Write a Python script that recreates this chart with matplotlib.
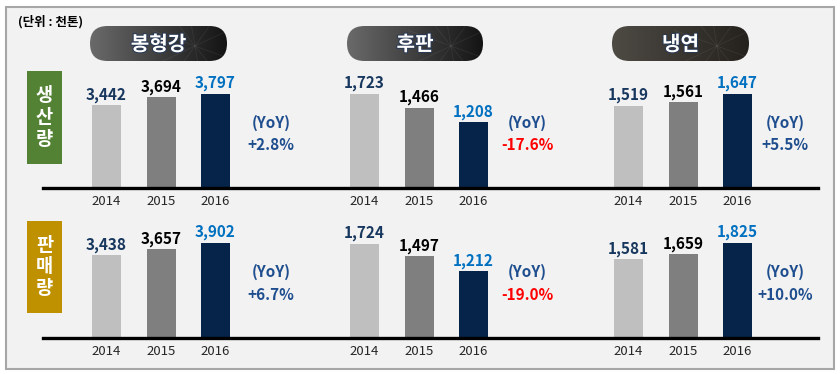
import numpy as np
import matplotlib
matplotlib.use("Agg")
import matplotlib.pyplot as plt
from matplotlib.patches import FancyBboxPatch, Rectangle
from matplotlib.lines import Line2D
import matplotlib.patheffects as pe

plt.rcParams['font.family'] = ['Noto Sans CJK KR', 'DejaVu Sans']

# ---------------- data ----------------
years = ['2014', '2015', '2016']
products = ['봉형강', '후판', '냉연']
row_labels = ['생산량', '판매량']
unit_label = '(단위 : 천톤)'

production_rebar = [3442, 3694, 3797]
production_plate = [1723, 1466, 1208]
production_cold = [1519, 1561, 1647]
sales_rebar = [3438, 3657, 3902]
sales_plate = [1724, 1497, 1212]
sales_cold = [1581, 1659, 1825]

yoy_production = [2.8, -17.6, 5.5]
yoy_sales = [6.7, -19.0, 10.0]

# ---------------- styling / layout ----------------
W, H = 840, 374
bar_colors = ['#bfbfbf', '#7f7f7f', '#06244a']
label_colors = ['#17375e', '#000000', '#0070c0']
yoy_pos_color = '#1f4e8f'
yoy_neg_color = '#ff0000'

group_centers = [106.5, 364.5, 628.5]   # px, centre of first bar
bar_step = 54.5                          # px between bars
bar_width_px = 29
baselines = [187.5, 337.5]               # px from top
axes_h = 100                             # px
yoy_x = [271, 527, 785]
yoy_y = [(123, 145), (272, 295)]
# value axis lower bounds and pixel height of the largest bar per panel
ylo = [[1000, 0, 650], [500, 0, 450]]
max_px = [[94, 94, 94], [95, 94, 95]]

fig = plt.figure(figsize=(W / 100, H / 100), dpi=100)
fig.patch.set_facecolor('white')

bg = fig.add_axes([0, 0, 1, 1], zorder=0)
bg.set_xlim(0, W)
bg.set_ylim(H, 0)
bg.axis('off')

# outer panel
bg.add_patch(Rectangle((6, 7), 828, 362, facecolor='#f2f2f2',
                       edgecolor='#a6a6a6', lw=1.5))
bg.text(18, 22, unit_label, fontsize=9, fontweight='bold',
        ha='left', va='center', color='#000000')

# header pills
pill_x = [(90, 227), (347, 483), (612, 749)]
pill_cols = [('#6a6a6a', '#141414'), ('#6a6a6a', '#141414'),
             ('#4e4a44', '#25211d')]
for (x0, x1), (c0, c1), name in zip(pill_x, pill_cols, products):
    y0, y1 = 26, 61
    patch = FancyBboxPatch((x0, y0), x1 - x0, y1 - y0,
                           boxstyle='round,pad=0,rounding_size=17.5',
                           facecolor='none', edgecolor='none')
    bg.add_patch(patch)
    cmap = matplotlib.colors.LinearSegmentedColormap.from_list('g', [c0, c1])
    grad = np.linspace(0, 1, 256).reshape(1, -1)
    im = bg.imshow(grad, extent=(x0, x1, y1, y0), cmap=cmap, aspect='auto',
                   zorder=1, interpolation='bilinear')
    im.set_clip_path(patch)
    # faint network-like texture on the right
    cx, cy = x1 - 32, y0 + 20
    for ang in [0.35, 0.9, 1.4, 2.2, 2.7]:
        ln, = bg.plot([cx - 45 * np.cos(ang), cx + 45 * np.cos(ang)],
                      [cy - 45 * np.sin(ang), cy + 45 * np.sin(ang)],
                      color='white', alpha=0.07, lw=0.6, zorder=2)
        ln.set_clip_path(patch)
    bg.text((x0 + x1) / 2, (y0 + y1) / 2 + 0.5, name, fontsize=14.5,
            fontweight='bold', color='white', ha='center', va='center',
            zorder=3,
            path_effects=[pe.withStroke(linewidth=1.5, foreground='#2a3a55')])

# row label boxes
row_boxes = [(71, 93, '#548235'), (221, 92, '#bf9000')]
for (y0, h, col), lab in zip(row_boxes, row_labels):
    bg.add_patch(Rectangle((27, y0), 35, h, facecolor=col, edgecolor='none'))
    cy = y0 + h / 2
    for k, ch in enumerate(lab):
        bg.text(44.5, cy + (k - 1) * 22, ch, fontsize=13.5, fontweight='bold',
                color='white', ha='center', va='center')

# ---------------- bar panels ----------------
data = [[production_rebar, production_plate, production_cold],
        [sales_rebar, sales_plate, sales_cold]]
yoys = [yoy_production, yoy_sales]
bw = bar_width_px / bar_step

for r in range(2):
    base = baselines[r]
    for g in range(3):
        vals = data[r][g]
        left = group_centers[g] - 0.5 * bar_step
        ax = fig.add_axes([left / W, 1 - base / H, 3 * bar_step / W, axes_h / H],
                          zorder=1)
        ax.patch.set_alpha(0)
        lo = ylo[r][g]
        top = lo + (max(vals) - lo) * axes_h / max_px[r][g]
        ax.set_xlim(-0.5, 2.5)
        ax.set_ylim(lo, top)
        x = np.arange(len(vals))
        ax.bar(x, vals, width=bw, color=bar_colors, zorder=2)
        for i, v in enumerate(vals):
            ax.annotate(f'{v:,}', (i, v), xytext=(0, 1.5),
                        textcoords='offset points', ha='center', va='bottom',
                        fontsize=11, fontweight='bold', color=label_colors[i],
                        annotation_clip=False)
        ax.set_xticks(x, years)
        ax.tick_params(axis='x', length=0, pad=5.5, labelsize=9.5,
                       labelcolor='#262626')
        ax.set_yticks([])
        for s in ax.spines.values():
            s.set_visible(False)

        yv = yoys[r][g]
        col = yoy_pos_color if yv >= 0 else yoy_neg_color
        bg.text(yoy_x[g], yoy_y[r][0], '(YoY)', fontsize=11, fontweight='bold',
                color=yoy_pos_color, ha='center', va='center')
        bg.text(yoy_x[g], yoy_y[r][1], f'{yv:+.1f}%', fontsize=11,
                fontweight='bold', color=col, ha='center', va='center')

    # baseline across the row
    fig.add_artist(Line2D([43 / W, 818 / W], [1 - base / H, 1 - base / H],
                          color='black', lw=2.4, zorder=5))

fig.savefig('out.png', dpi=100, facecolor='white')
